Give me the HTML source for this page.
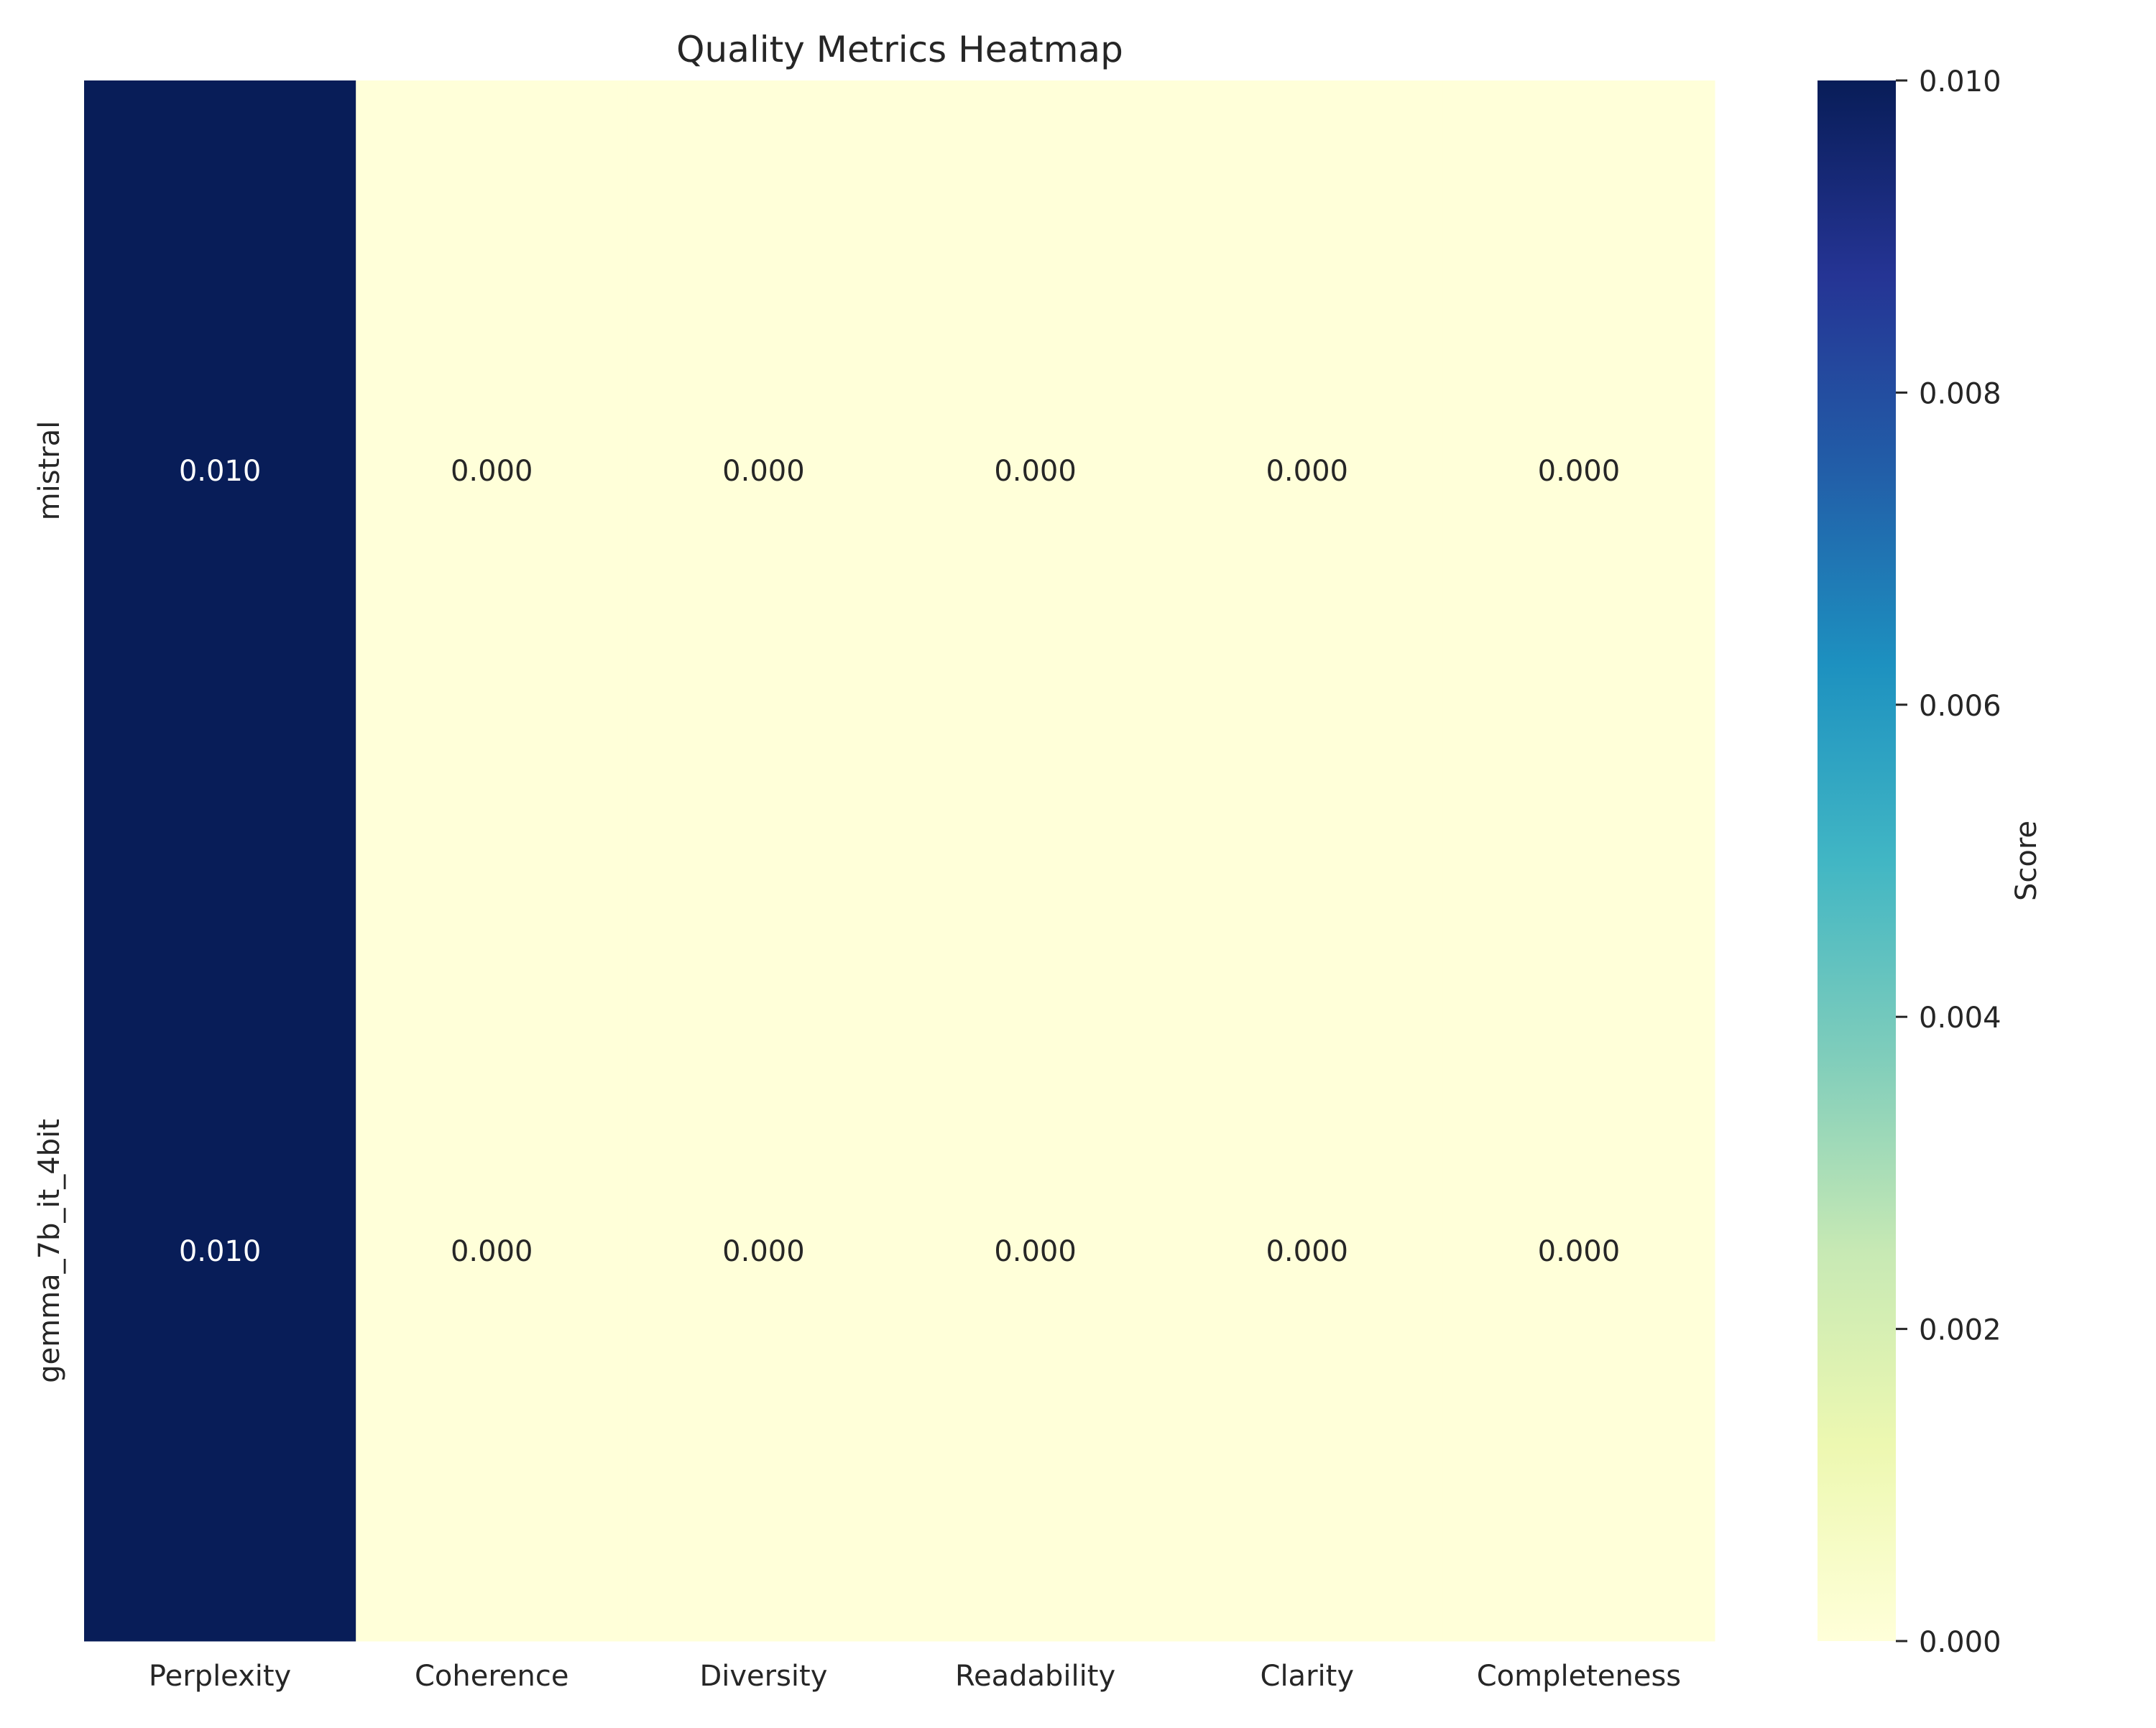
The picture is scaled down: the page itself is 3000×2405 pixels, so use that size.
<!DOCTYPE html>
<html><head><meta charset="utf-8"><style>
html,body{margin:0;padding:0;background:#fff}
svg text{font-family:"DejaVu Sans","Liberation Sans",sans-serif;}
</style></head><body>
<svg id="chart" width="3000" height="2400" viewBox="0 0 3000 2400" xmlns="http://www.w3.org/2000/svg">
<defs>
<linearGradient id="ylgnbu" x1="0" y1="1" x2="0" y2="0">
<stop offset="0" stop-color="#ffffd9"/>
<stop offset="0.125" stop-color="#edf8b1"/>
<stop offset="0.25" stop-color="#c7e9b4"/>
<stop offset="0.375" stop-color="#7fcdbb"/>
<stop offset="0.5" stop-color="#41b6c4"/>
<stop offset="0.625" stop-color="#1d91c0"/>
<stop offset="0.75" stop-color="#225ea8"/>
<stop offset="0.875" stop-color="#253494"/>
<stop offset="1" stop-color="#081d58"/>
</linearGradient>
</defs>
<text x="1252" y="86" font-size="50" text-anchor="middle" fill="#262626">Quality Metrics Heatmap</text>
<g id="cells"></g>
<g id="labels"></g>
<rect x="2529" y="112" width="109" height="2172" fill="url(#ylgnbu)"/>
<g id="cbticks"></g>
<text transform="translate(2833,1198) rotate(-90)" font-size="40" text-anchor="middle" fill="#262626">Score</text>
</svg>
<script>
const metrics = ["Perplexity","Coherence","Diversity","Readability","Clarity","Completeness"];
const models = ["mistral","gemma_7b_it_4bit"];
const mistralScores = [0.010,0.000,0.000,0.000,0.000,0.000];
const gemmaScores = [0.010,0.000,0.000,0.000,0.000,0.000];
const cbTicks = [0.000,0.002,0.004,0.006,0.008,0.010];

const values=[mistralScores,gemmaScores];
const NS="http://www.w3.org/2000/svg";
const L=117,R=2386,T=112,B=2284,vmin=0,vmax=0.01;
const cw=(R-L)/metrics.length, ch=(B-T)/models.length;
const xc=i=>L+cw*(i+0.5), yc=j=>T+ch*(j+0.5);
const cbY=v=>B-(v-vmin)/(vmax-vmin)*(B-T);
const stops=[[0,"#ffffd9"],[0.125,"#edf8b1"],[0.25,"#c7e9b4"],[0.375,"#7fcdbb"],[0.5,"#41b6c4"],[0.625,"#1d91c0"],[0.75,"#225ea8"],[0.875,"#253494"],[1,"#081d58"]];
function hex(h){return [1,3,5].map(k=>parseInt(h.substr(k,2),16));}
function color(v){let t=Math.max(0,Math.min(1,(v-vmin)/(vmax-vmin)));for(let k=1;k<stops.length;k++){if(t<=stops[k][0]){const a=hex(stops[k-1][1]),b=hex(stops[k][1]);const f=(t-stops[k-1][0])/(stops[k][0]-stops[k-1][0]);const c=a.map((x,i)=>Math.round(x+(b[i]-x)*f));return {c:`rgb(${c})`,lum:(0.299*c[0]+0.587*c[1]+0.114*c[2])};}}return {c:stops[8][1],lum:0};}
function mk(tag,attrs,parent,text){const e=document.createElementNS(NS,tag);for(const k in attrs)e.setAttribute(k,attrs[k]);if(text!==undefined)e.textContent=text;parent.appendChild(e);return e;}
const cells=document.getElementById('cells'),labels=document.getElementById('labels'),cbt=document.getElementById('cbticks');
values.forEach((row,j)=>row.forEach((v,i)=>{
  const col=color(v);
  const r=mk('rect',{x:L+cw*i,y:T+ch*j,width:cw+0.5,height:ch+0.5,fill:col.c},cells);
  
  
  const t=mk('text',{x:xc(i),y:yc(j)+14,'font-size':40,'text-anchor':'middle',fill:col.lum<128?'#ffffff':'#262626'},labels,v.toFixed(3));
  
  
}));
metrics.forEach((m,i)=>{
  const t=mk('text',{x:xc(i),y:2346,'font-size':40,'text-anchor':'middle',fill:'#262626'},labels,m);
  
  
});
models.forEach((m,j)=>{
  const t=mk('text',{transform:`translate(82,${yc(j)}) rotate(-90)`,'font-size':40,'text-anchor':'middle',fill:'#262626'},labels,m);
  
  
});
cbTicks.forEach(v=>{
  const l=mk('line',{x1:2638,x2:2654,y1:cbY(v),y2:cbY(v),stroke:'#262626','stroke-width':3},cbt);
  
  
  const t=mk('text',{x:2670,y:cbY(v)+15,'font-size':40,fill:'#262626'},cbt,v.toFixed(3));
  
  
});
</script>
</body></html>
